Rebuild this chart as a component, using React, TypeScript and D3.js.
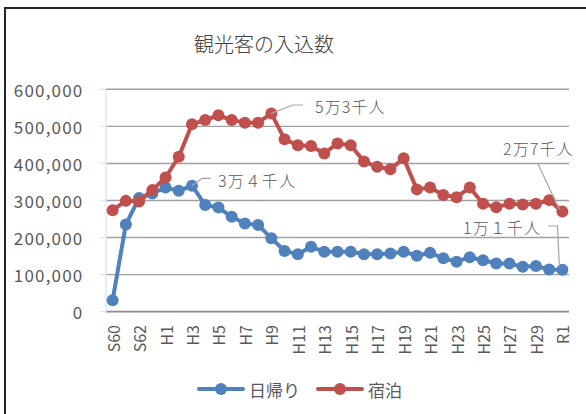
import { useMemo } from 'react';
import * as d3 from 'd3';

const W = 586;
const H = 414;

// categories (年度)
const years = [
  'S60', 'S61', 'S62', 'S63',
  'H1', 'H2', 'H3', 'H4', 'H5', 'H6', 'H7', 'H8', 'H9', 'H10',
  'H11', 'H12', 'H13', 'H14', 'H15', 'H16', 'H17', 'H18', 'H19', 'H20',
  'H21', 'H22', 'H23', 'H24', 'H25', 'H26', 'H27', 'H28', 'H29', 'H30',
  'R1',
];

// 日帰り
const dayTrip = [
  31000, 235000, 307000, 319000,
  335000, 326000, 340000, 288000, 281000, 256000, 238000, 234000, 198000, 164000,
  155000, 175000, 162000, 162000, 162000, 155000, 155000, 157000, 162000, 151000,
  159000, 144000, 135000, 147000, 139000, 130000, 130000, 121000, 123000, 114000,
  113000,
];

// 宿泊
const overnight = [
  274000, 299000, 297000, 328000,
  362000, 418000, 506000, 517000, 530000, 517000, 510000, 510000, 535000, 465000,
  449000, 447000, 427000, 454000, 449000, 405000, 391000, 384000, 414000, 330000,
  335000, 315000, 309000, 335000, 291000, 282000, 291000, 289000, 291000, 301000,
  270000,
];

const yTicks = [0, 100000, 200000, 300000, 400000, 500000, 600000];

const BLUE = '#4F81BD';
const RED = '#C0504D';
const TEXT = '#595959';
const FONT = '"Noto Sans CJK JP", "Noto Sans", sans-serif';

export default function App() {
  const x = useMemo(
    () => d3.scalePoint<string>().domain(years).range([106, 569]).padding(0.5),
    []
  );
  const y = useMemo(() => d3.scaleLinear().domain([0, 600000]).range([311.7, 89.3]), []);

  const line = d3
    .line<number>()
    .x((_, i) => x(years[i]) as number)
    .y((d) => y(d));

  const series = [
    { name: '日帰り', values: dayTrip, color: BLUE },
    { name: '宿泊', values: overnight, color: RED },
  ];

  // data labels with leader lines
  const px = (i: number) => x(years[i]) as number;
  const notes = [
    {
      text: '5万3千人', tx: 315, ty: 106,
      path: `M${px(12)},${y(overnight[12])}L293,105L303,105`,
    },
    {
      text: '3万４千人', tx: 218, ty: 179.5,
      path: `M${px(6)},${y(dayTrip[6])}L202,178.3L211,178.3`,
    },
    {
      text: '2万7千人', tx: 503, ty: 147.5,
      path: `M538,164L${px(34) - 3},${y(overnight[34]) - 2}`,
    },
    {
      text: '1万１千人', tx: 463, ty: 227,
      path: `M548,226L557.5,226L${px(34) - 3},${y(dayTrip[34]) - 3}`,
    },
  ];

  return (
    <div style={{ position: 'absolute', left: 0, top: 0 }}>
      <svg width={W} height={H} style={{ display: 'block', fontFamily: FONT }}>
        <rect x={0} y={0} width={W} height={H} fill="#fff" />
        <rect x={5} y={8} width={640} height={460} fill="#fff" stroke="#262626" strokeWidth={2} />

        <text
          x={264}
          y={43}
          textAnchor="middle"
          dominantBaseline="central"
          fontSize={20}
          fontWeight={300}
          fill="#404040"
        >
          観光客の入込数
        </text>

        {/* gridlines */}
        {yTicks.map((t) => (
          <g key={t}>
            <line
              x1={106}
              x2={569}
              y1={y(t)}
              y2={y(t)}
              stroke={t === 0 ? '#8c8c8c' : '#a0a0a0'}
              strokeWidth={t === 0 ? 1.8 : 1.4}
            />
            <line x1={100} x2={106} y1={y(t)} y2={y(t)} stroke="#dbe8f1" strokeWidth={1.4} />
            <text
              x={83.5}
              y={y(t)}
              textAnchor="end"
              dominantBaseline="central"
              fontSize={17}
              letterSpacing={1.2}
              fill={TEXT}
            >
              {d3.format(',')(t)}
            </text>
          </g>
        ))}
        <line x1={106} x2={106} y1={89.3} y2={311.7} stroke="#dbe8f1" strokeWidth={1.4} />

        {/* x labels, every other category */}
        {years.map((c, i) =>
          i % 2 === 0 ? (
            <text
              key={c}
              transform={`translate(${x(c)},${325}) rotate(-90)`}
              textAnchor="end"
              dominantBaseline="central"
              fontSize={16}
              fill={TEXT}
            >
              {c}
            </text>
          ) : null
        )}

        {/* series */}
        {series.map((s) => (
          <g key={s.name}>
            <path
              d={line(s.values) || ''}
              fill="none"
              stroke={s.color}
              strokeWidth={4}
              strokeLinejoin="round"
            />
            {s.values.map((v, i) => (
              <circle key={i} cx={x(years[i])} cy={y(v)} r={6} fill={s.color} />
            ))}
          </g>
        ))}

        {/* annotations */}
        {notes.map((n) => (
          <g key={n.text}>
            <path d={n.path} fill="none" stroke="#a6a6a6" strokeWidth={1.2} />
            <text
              x={n.tx}
              y={n.ty}
              dominantBaseline="central"
              fontSize={16}
              fontWeight={300}
              letterSpacing={1.1}
              fill={TEXT}
            >
              {n.text}
            </text>
          </g>
        ))}

        {/* legend */}
        {series.map((s, i) => {
          const lx = 199 + i * 119;
          return (
            <g key={s.name}>
              <line x1={lx} x2={lx + 44} y1={389} y2={389} stroke={s.color} strokeWidth={4} strokeLinecap="round" />
              <circle cx={lx + 22} cy={389} r={6} fill={s.color} />
              <text x={lx + 50} y={389} dominantBaseline="central" fontSize={17} fill={TEXT}>
                {s.name}
              </text>
            </g>
          );
        })}
      </svg>
    </div>
  );
}
